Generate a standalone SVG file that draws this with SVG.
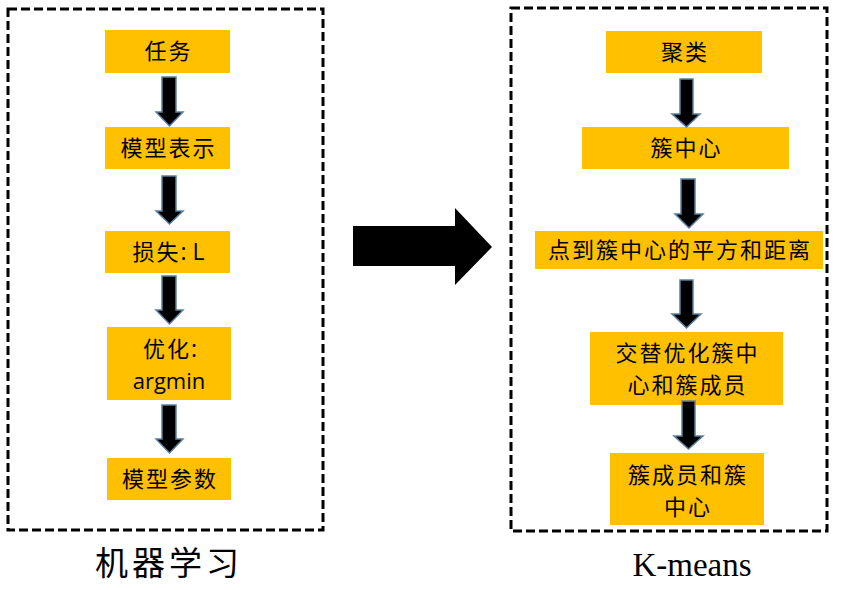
<svg xmlns="http://www.w3.org/2000/svg" width="842" height="590" viewBox="0 0 842 590">
<style>
.frame{fill:none;stroke:#000;stroke-width:3;stroke-dasharray:9 4}
.box{fill:#FFC000}
.t{font-family:"Noto Sans CJK SC","Noto Sans",sans-serif;font-size:22px;letter-spacing:2px;fill:#000;text-anchor:middle}
.s{font-family:"Open Sans","Liberation Sans",sans-serif;letter-spacing:0}
.arr{fill:#000;stroke:#5B7FA0;stroke-width:1.5;stroke-linejoin:miter}
.cap{font-family:"Liberation Serif","Noto Sans CJK SC",serif;font-size:33px;fill:#000;text-anchor:middle}
</style>
<rect class="frame" x="8" y="9" width="315" height="521"/>
<rect class="frame" x="511" y="8" width="316" height="523"/>
<g id="n_task"><rect class="box" x="105" y="30" width="125" height="43"/><text class="t" x="168.5" y="59">任务</text></g>
<g id="n_model"><rect class="box" x="105" y="127" width="125" height="42"/><text class="t" x="168.5" y="156">模型表示</text></g>
<g id="n_loss"><rect class="box" x="105" y="231" width="125" height="42"/><text class="t" x="168.5" y="260">损失<tspan class="s" font-size="23">: L</tspan></text></g>
<g id="n_opt"><rect class="box" x="107" y="327" width="124" height="73"/><text class="t" x="170" y="357">优化<tspan class="s" font-size="23">:</tspan></text><text class="t s" x="169" y="389" font-size="23">argmin</text></g>
<g id="n_param"><rect class="box" x="107" y="458" width="124" height="42"/><text class="t" x="170" y="487">模型参数</text></g>
<g id="n_cluster"><rect class="box" x="606" y="31" width="156" height="42"/><text class="t" x="685" y="60">聚类</text></g>
<g id="n_center"><rect class="box" x="582" y="127" width="207" height="42"/><text class="t" x="686.5" y="156">簇中心</text></g>
<g id="n_dist"><rect class="box" x="535" y="231" width="288" height="38"/><text class="t" x="680" y="258">点到簇中心的平方和距离</text></g>
<g id="n_alt"><rect class="box" x="590" y="332" width="193" height="73"/><text class="t" x="687.5" y="361">交替优化簇中</text><text class="t" x="687.5" y="393">心和簇成员</text></g>
<g id="n_result"><rect class="box" x="610" y="453" width="154" height="72"/><text class="t" x="688" y="483">簇成员和簇</text><text class="t" x="688" y="515">中心</text></g>
<g id="connectors">
<polygon class="arr" points="162,77 176,77 176,112 183,112 169.5,126 156,112 162,112"/>
<polygon class="arr" points="162,176 176,176 176,211 183,211 169.5,224 156,211 162,211"/>
<polygon class="arr" points="162,276 176,276 176,310 183,310 169.5,324 156,310 162,310"/>
<polygon class="arr" points="162,405 176,405 176,439 183,439 169.5,453 156,439 162,439"/>
<polygon class="arr" points="680,79 693,79 693,114 700,114 686.5,127 672,114 680,114"/>
<polygon class="arr" points="681,179 695,179 695,214 703,214 689,228 675,214 681,214"/>
<polygon class="arr" points="680,280 693,280 693,314 701,314 686.5,328 672,314 680,314"/>
<polygon class="arr" points="682,401 695,401 695,436 703,436 688.5,449 674,436 682,436"/>
<polygon fill="#000" points="353,226 455,226 455,208 492,247 455,285 455,266 353,266"/>
</g>
<text class="cap" x="169" y="575" font-size="28" letter-spacing="4">机器学习</text>
<text class="cap" x="692" y="576">K-means</text>
</svg>
